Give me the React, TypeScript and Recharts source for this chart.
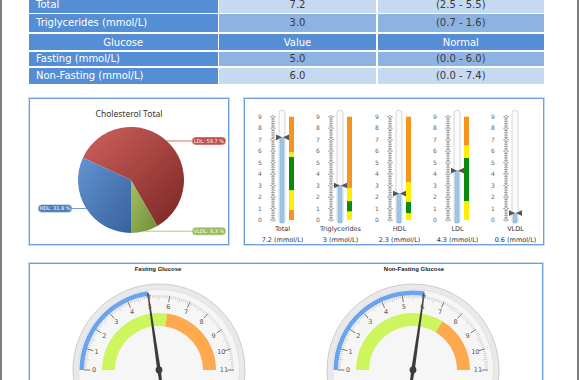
import React from 'react'
import {
  PieChart, Pie, Cell, BarChart, Bar, XAxis, YAxis,
  RadialBarChart, RadialBar, PolarAngleAxis, Sector,
} from 'recharts'

const RAD = Math.PI / 180

// lipid / glucose table
const lipidLabels = ['Total', 'Triglycerides (mmol/L)']
const lipidValues = ['7.2', '3.0']
const lipidNormals = ['(2.5 - 5.5)', '(0.7 - 1.6)']
const glucoseHeaders = ['Glucose', 'Value', 'Normal']
const glucoseLabels = ['Fasting (mmol/L)', 'Non-Fasting (mmol/L)']
const glucoseValues = ['5.0', '6.0']
const glucoseNormals = ['(0.0 - 6.0)', '(0.0 - 7.4)']

// cholesterol pie
const pieNames = ['VLDL', 'LDL', 'HDL']
const pieShares = [8.3, 59.7, 31.9]
const pieColors = ['#9bbb59', '#c0504d', '#4f81bd']
const pieLight = ['#a3c263', '#d0615d', '#6293d2']
const pieDark = ['#6f8c37', '#7a2624', '#37629c']

// thermometers
const thermoNames = ['Total', 'Triglycerides', 'HDL', 'LDL', 'VLDL']
const thermoValues = [7.2, 3, 2.3, 4.3, 0.6]
const thermoUnit = '(mmol/L)'
const thermoTickLabels = [0, 1, 2, 3, 4, 5, 6, 7, 8, 9]
// colour band, segment lengths from 0 upwards
const bandLowAlert = [0.9, 0, 0, 0, 0]
const bandLowWarn = [1.7, 0.75, 0.6, 1.65, 0]
const bandNormal = [2.9, 0.9, 1.0, 3.75, 0]
const bandHighWarn = [0.4, 1.15, 1.7, 1.1, 0]
const bandHighAlert = [3.1, 6.2, 5.7, 2.5, 0]
const bandKeys = ['lowAlert', 'lowWarn', 'normal', 'highWarn', 'highAlert']
const bandColors = ['#f7941d', '#ffee00', '#0b8a0b', '#ffee00', '#f7941d']

// glucose gauges
const gaugeTitles = ['Fasting Glucose', 'Non-Fasting Glucose']
const gaugeValues = [5.0, 6.0]
const gaugeNormalMax = [6.0, 7.4]
const gaugeMax = 11
const gaugeTickLabels = [0, 1, 2, 3, 4, 5, 6, 7, 8, 9, 10, 11]

const rulerTicks = Array.from({ length: 46 }, (_, i) => i / 5)
const gaugeTicks = Array.from({ length: 111 }, (_, i) => i / 10)

const NO_MARGIN = { top: 0, right: 0, bottom: 0, left: 0 }
const BLUE = '#558ed5'
const MID = '#8db3e2'
const LIGHT = '#c5d9f1'
const cols = [
  { left: 29, width: 188.5 },
  { left: 219, width: 157 },
  { left: 377.5, width: 166.5 },
]

function TableRow({ top, height, texts, bgs, header }: {
  top: number; height: number; texts: string[]; bgs: string[]; header?: boolean
}) {
  return (
    <>
      {cols.map((c, j) => (
        <div key={j} style={{
          position: 'absolute', left: c.left, width: c.width, top, height,
          background: bgs[j], display: 'flex', alignItems: 'center',
          justifyContent: j === 0 && !header ? 'flex-start' : 'center',
          paddingLeft: j === 0 && !header ? 7 : 0, boxSizing: 'border-box',
          color: j === 0 || header ? '#fff' : '#3a3a3a', fontSize: 10,
          whiteSpace: 'nowrap',
        }}>{texts[j]}</div>
      ))}
    </>
  )
}

function PillLabel(props: any) {
  const { cx, cy, midAngle, outerRadius, name, value, index } = props
  const ex = cx + outerRadius * Math.cos(-midAngle * RAD)
  const ey = cy + outerRadius * Math.sin(-midAngle * RAD)
  const right = ex >= cx
  const w = 34
  const h = 8
  const px = right ? cx + 61 : cx - 59 - w
  const color = pieColors[index]
  return (
    <g>
      <line x1={ex} y1={ey} x2={right ? px : px + w} y2={ey} stroke={color} strokeWidth={0.8} />
      <rect x={px} y={ey - h / 2} width={w} height={h} rx={4} fill={color} stroke="#fff" strokeOpacity={0.7} strokeWidth={0.6} />
      <text x={px + w / 2} y={ey + 1.8} textAnchor="middle" fontSize={5} fill="#fff">{`${name}: ${value} %`}</text>
    </g>
  )
}

function RulerTick(props: any) {
  const { x, y, payload } = props
  const v = payload.value
  const major = thermoTickLabels.includes(v)
  const hw = major ? 3 : 2
  return (
    <g>
      {major && <text x={x - 13} y={y + 2.2} textAnchor="middle" fontSize={6} fill="#666">{v}</text>}
      <line x1={x - hw} x2={x + hw} y1={y} y2={y} stroke="#8a8a8a" strokeWidth={0.7} />
      {major && <circle cx={x} cy={y} r={1.3} fill="#fff" stroke="#8a8a8a" strokeWidth={0.6} />}
    </g>
  )
}

function ThermoLabel(props: any) {
  const { x, y, payload } = props
  const i = thermoNames.indexOf(payload.value)
  return (
    <g>
      <text x={x - 4} y={y + 3} textAnchor="middle" fontSize={6.5} fill="#333">{payload.value}</text>
      <text x={x - 4} y={y + 14} textAnchor="middle" fontSize={6.5} fill="#333">{`${thermoValues[i]} ${thermoUnit}`}</text>
    </g>
  )
}

function TubeShape(props: any) {
  const { x, y, width, height } = props
  return <rect x={x} y={y - 6.5} width={width} height={height + 9.5} rx={3} fill="#fbfbfb" stroke="#cdcdcd" strokeWidth={0.8} />
}

function MercuryShape(props: any) {
  const { x, y, width, height } = props
  return (
    <g>
      <rect x={x + 1} y={y} width={width - 2} height={height + 3} fill="#9dc6e9" stroke="#7fb0dc" strokeWidth={0.4} />
      <path d={`M${x - 3},${y - 2.8} L${x + 3},${y} L${x - 3},${y + 2.8} Z`} fill="#555" />
      <path d={`M${x + width + 4},${y - 2.8} L${x + width - 2},${y} L${x + width + 4},${y + 2.8} Z`} fill="#555" />
    </g>
  )
}

function Thermometer({ i }: { i: number }) {
  const data = [{
    name: thermoNames[i], value: thermoValues[i],
    lowAlert: bandLowAlert[i], lowWarn: bandLowWarn[i], normal: bandNormal[i],
    highWarn: bandHighWarn[i], highAlert: bandHighAlert[i],
  }]
  return (
    <div style={{ position: 'absolute', left: 250 + i * 58.25, top: 105 }}>
      <BarChart width={58} height={140} data={data} margin={{ top: 11.7, right: 8, bottom: 0, left: 0 }} barGap={4} barCategoryGap={0}>
        <XAxis dataKey="name" height={25} axisLine={false} tickLine={false} tick={<ThermoLabel />} interval={0} />
        <YAxis width={23} domain={[0, 9]} ticks={rulerTicks} interval={0} tickSize={0} tickMargin={0}
          axisLine={{ stroke: '#9a9a9a', strokeWidth: 0.8 }} tickLine={false} tick={<RulerTick />} />
        <Bar dataKey="value" stackId="tube" barSize={6} fill="#9dc6e9" background={<TubeShape />} shape={<MercuryShape />} isAnimationActive={false} />
        {bandKeys.map((k, j) => (
          <Bar key={k} dataKey={k} stackId="band" barSize={5} fill={bandColors[j]} isAnimationActive={false} />
        ))}
      </BarChart>
    </div>
  )
}

function GaugeTick(props: any) {
  const { payload, gx, gy } = props
  const v = payload.value
  const a = -payload.coordinate * RAD
  const major = gaugeTickLabels.includes(v)
  const half = !major && Math.round(v * 10) % 5 === 0
  const c = Math.cos(a)
  const s = Math.sin(a)
  const r1 = 75
  const r2 = major ? 68.5 : half ? 70.5 : 72.2
  return (
    <g>
      <line x1={gx + r1 * c} y1={gy + r1 * s} x2={gx + r2 * c} y2={gy + r2 * s}
        stroke={major ? '#666' : '#a8a8a8'} strokeWidth={major ? 0.9 : 0.5} />
      {major && (
        <text x={gx + 65 * c} y={gy + 64 * s + 2.2} textAnchor="middle" fontSize={6.5} fill="#555">{v}</text>
      )}
    </g>
  )
}

function NeedleShape(props: any) {
  const { cx, cy, innerRadius, outerRadius, startAngle, endAngle, fill } = props
  const a = -endAngle * RAD
  const ux = Math.cos(a)
  const uy = Math.sin(a)
  const nx = -uy
  const ny = ux
  const tip = 78
  const tail = 12
  const pts = [
    [cx + ux * tip + nx * 0.6, cy + uy * tip + ny * 0.6],
    [cx + nx * 1.8, cy + ny * 1.8],
    [cx - ux * tail + nx * 1.4, cy - uy * tail + ny * 1.4],
    [cx - ux * tail - nx * 1.4, cy - uy * tail - ny * 1.4],
    [cx - nx * 1.8, cy - ny * 1.8],
    [cx + ux * tip - nx * 0.6, cy + uy * tip - ny * 0.6],
  ]
  const m1 = [cx + ux * 71.5, cy + uy * 71.5]
  const m2 = [cx + ux * 75.5 + nx * 2.2, cy + uy * 75.5 + ny * 2.2]
  const m3 = [cx + ux * 75.5 - nx * 2.2, cy + uy * 75.5 - ny * 2.2]
  return (
    <g>
      <Sector cx={cx} cy={cy} innerRadius={innerRadius} outerRadius={outerRadius} startAngle={startAngle} endAngle={endAngle} fill={fill} />
      <path d={`M${m1.join(',')} L${m2.join(',')} L${m3.join(',')} Z`} fill="#7fb0ee" stroke="#3f6fae" strokeWidth={0.5} />
      <path d={'M' + pts.map((p) => p.join(',')).join(' L') + ' Z'} fill="#3c3c3c" />
      <circle cx={cx} cy={cy} r={3.4} fill="#3c3c3c" />
    </g>
  )
}

function Gauge({ i, left, gx }: { i: number; left: number; gx: number }) {
  const gy = 106
  const data = [{
    name: gaugeTitles[i], normal: gaugeNormalMax[i],
    high: gaugeMax - gaugeNormalMax[i], value: gaugeValues[i],
  }]
  return (
    <div style={{ position: 'absolute', left, top: 264, width: 256, height: 116 }}>
      <svg width={256} height={116} style={{ position: 'absolute', left: 0, top: 0 }}>
        <circle cx={gx} cy={gy} r={86} fill="#e9e9e9" stroke="#c2c2c2" strokeWidth={0.8} />
        <circle cx={gx} cy={gy} r={80.5} fill="#f6f6f6" stroke="#d8d8d8" strokeWidth={0.6} />
      </svg>
      <div style={{
        position: 'absolute', left: 0, width: 256, top: 2, textAlign: 'center',
        fontFamily: '"Liberation Sans", Arial, sans-serif', fontWeight: 'bold', fontSize: 6, color: '#222',
      }}>{gaugeTitles[i]}</div>
      <div style={{ position: 'absolute', left: 0, top: 0 }}>
        <RadialBarChart width={256} height={116} data={data} cx={gx} cy={gy} margin={NO_MARGIN}
          innerRadius={44} outerRadius={80} startAngle={180} endAngle={0} barGap={18} barCategoryGap={0}>
          <PolarAngleAxis type="number" domain={[0, gaugeMax]} ticks={gaugeTicks as any} axisLine={false} tickLine={false}
            tick={<GaugeTick gx={gx} gy={gy} />} />
          <RadialBar dataKey="normal" stackId="band" barSize={13} fill="#ccf55e" isAnimationActive={false} />
          <RadialBar dataKey="high" stackId="band" barSize={13} fill="#ffa94f" isAnimationActive={false} />
          <RadialBar dataKey="value" barSize={4.5} fill="#6aa3ef" shape={<NeedleShape />} isAnimationActive={false} />
        </RadialBarChart>
      </div>
    </div>
  )
}

const panelBorder = {
  position: 'absolute' as const, border: '1px solid #6d9fe0',
  boxShadow: '0 0 0 1px #c8dbf4', background: '#fff', boxSizing: 'border-box' as const,
}

export default function App() {
  const pieData = pieNames.map((n, i) => ({ name: n, share: pieShares[i] }))
  return (
    <div style={{
      position: 'absolute', left: 0, top: 0, width: 580, height: 380, overflow: 'hidden',
      background: '#fff', fontFamily: '"DejaVu Sans", sans-serif',
    }}>
      <div style={{ position: 'absolute', left: 0, top: 0, width: 2, height: 380, background: '#7f7f7f' }} />
      <div style={{ position: 'absolute', left: 577, top: 0, width: 2, height: 380, background: '#7f7f7f' }} />

      <TableRow top={-3} height={15.7} texts={[lipidLabels[0], lipidValues[0], lipidNormals[0]]} bgs={[BLUE, LIGHT, LIGHT]} />
      <TableRow top={14} height={17.7} texts={[lipidLabels[1], lipidValues[1], lipidNormals[1]]} bgs={[BLUE, MID, MID]} />
      <TableRow top={34.3} height={15.7} texts={glucoseHeaders} bgs={[BLUE, BLUE, BLUE]} header />
      <TableRow top={51.7} height={14.5} texts={[glucoseLabels[0], glucoseValues[0], glucoseNormals[0]]} bgs={[BLUE, MID, MID]} />
      <TableRow top={67.5} height={16} texts={[glucoseLabels[1], glucoseValues[1], glucoseNormals[1]]} bgs={[BLUE, LIGHT, LIGHT]} />

      <div style={{ ...panelBorder, left: 29, top: 98, width: 200, height: 147 }}>
        <div style={{
          position: 'absolute', left: 0, width: 198, top: 9, textAlign: 'center',
          fontFamily: '"Noto Sans", sans-serif', fontSize: 8.5, color: '#333',
        }}>Cholesterol Total</div>
        <div style={{ position: 'absolute', left: -1, top: -1 }}>
          <PieChart width={200} height={147} margin={NO_MARGIN}>
            <defs>
              {pieColors.map((c, i) => (
                <linearGradient key={c} id={`pieGrad${i}`} x1="0" y1="0" x2="1" y2="1">
                  <stop offset="0%" stopColor={pieLight[i]} />
                  <stop offset="100%" stopColor={pieDark[i]} />
                </linearGradient>
              ))}
            </defs>
            <Pie data={pieData} dataKey="share" nameKey="name" cx={102} cy={82} outerRadius={53}
              startAngle={-90} endAngle={270} stroke="none" labelLine={false}
              label={(p: any) => <PillLabel {...p} />} isAnimationActive={false}>
              {pieData.map((d, i) => <Cell key={d.name} fill={`url(#pieGrad${i})`} />)}
            </Pie>
          </PieChart>
        </div>
      </div>

      <div style={{ ...panelBorder, left: 244, top: 98, width: 300, height: 147 }} />
      {thermoNames.map((n, i) => <Thermometer key={n} i={i} />)}

      <div style={{ ...panelBorder, left: 29, top: 263, width: 514, height: 140 }} />
      <Gauge i={0} left={30} gx={129} />
      <Gauge i={1} left={286} gx={127} />
    </div>
  )
}
